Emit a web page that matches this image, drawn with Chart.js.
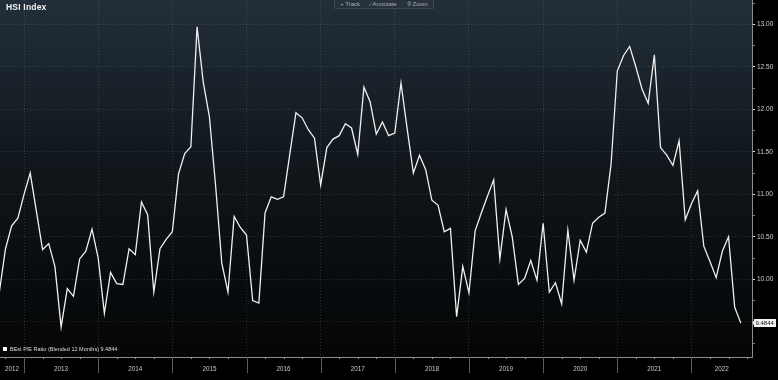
<!DOCTYPE html>
<html><head><meta charset="utf-8">
<script src="https://cdn.jsdelivr.net/npm/chart.js@4.4.0/dist/chart.umd.min.js"></script>
<style>
html,body{margin:0;padding:0;background:#000;}
#wrap{position:relative;width:778px;height:380px;overflow:hidden;}
canvas{display:block;}
.title{position:absolute;left:6px;top:2px;font:bold 8.5px "Liberation Sans",Arial,sans-serif;color:#f2f2f2;letter-spacing:0.2px;}
.tools{position:absolute;left:334px;top:-1px;width:98px;height:9px;background:#26313c;border:1px solid #3c4752;border-top:none;border-radius:0 0 2px 2px;font:6px "Liberation Sans",Arial,sans-serif;color:#a9b0b6;display:flex;align-items:center;justify-content:space-around;white-space:nowrap;}
.legend{position:absolute;left:3px;top:346px;font:5.5px "Liberation Sans",Arial,sans-serif;color:#dcdcdc;display:flex;align-items:center;white-space:nowrap;}
.legend i{display:inline-block;width:4px;height:4px;background:#fff;margin-right:3px;}
</style>
</head><body>
<div id="wrap">
<canvas id="c" width="778" height="380"></canvas>
<div class="title">HSI Index</div>
<div class="tools"><span>+ Track</span><span>&#8260; Annotate</span><span>&#9906; Zoom</span></div>
<div class="legend"><i></i><span>BEst P/E Ratio (Blended 12 Months) 9.4844</span></div>
</div>
<script>
// ---- data (month-end values, Aug 2012 .. Aug 2022) ----
const firstMonth = {year: 2012, month: 8};
const pe2012 = [9.85, 10.36, 10.63, 10.72, 11.00];
const pe2013 = [11.25, 10.80, 10.35, 10.42, 10.15, 9.44, 9.89, 9.80, 10.24, 10.33, 10.59, 10.25];
const pe2014 = [9.60, 10.08, 9.95, 9.94, 10.36, 10.29, 10.91, 10.76, 9.85, 10.36, 10.47, 10.56];
const pe2015 = [11.24, 11.48, 11.56, 12.97, 12.32, 11.91, 11.10, 10.19, 9.85, 10.74, 10.61, 10.52];
const pe2016 = [9.75, 9.72, 10.78, 10.97, 10.94, 10.97, 11.47, 11.96, 11.90, 11.76, 11.66, 11.11];
const pe2017 = [11.55, 11.65, 11.69, 11.83, 11.78, 11.47, 12.26, 12.09, 11.71, 11.85, 11.69, 11.72];
const pe2018 = [12.31, 11.77, 11.25, 11.46, 11.29, 10.93, 10.87, 10.56, 10.60, 9.56, 10.15, 9.84];
const pe2019 = [10.57, 10.78, 10.98, 11.17, 10.24, 10.82, 10.50, 9.94, 10.01, 10.22, 9.99, 10.66];
const pe2020 = [9.85, 9.96, 9.71, 10.58, 9.99, 10.46, 10.32, 10.66, 10.73, 10.78, 11.36, 12.45];
const pe2021 = [12.63, 12.74, 12.50, 12.24, 12.07, 12.64, 11.55, 11.46, 11.34, 11.63, 10.70, 10.89];
const pe2022 = [11.04, 10.39, 10.21, 10.02, 10.33, 10.50, 9.67, 9.4844];
const yearLabels = ['2012','2013','2014','2015','2016','2017','2018','2019','2020','2021','2022'];
const yMajorTicks = [9.5, 10.0, 10.5, 11.0, 11.5, 12.0, 12.5, 13.0];
const seriesName = 'BEst P/E Ratio (Blended 12 Months)';
const lastLabel = '9.4844';

// ---- build ----
const peRatio = [].concat(pe2012, pe2013, pe2014, pe2015, pe2016, pe2017, pe2018, pe2019, pe2020, pe2021, pe2022);
const points = peRatio.map((v, i) => ({x: i, y: v}));
const xMin = 0.11, xMax = 121.8;
const yMin = 9.086, yMax = 13.286;
const firstYear = parseInt(yearLabels[0], 10);
const boundaryIdx = yr => (12 - firstMonth.month) + 12 * (yr - firstYear - 1);
const boundaries = yearLabels.slice(1).map(y => boundaryIdx(parseInt(y, 10)));
const midpoints = yearLabels.map((y, i) => {
  const a = i === 0 ? xMin : boundaries[i - 1];
  const b = i === yearLabels.length - 1 ? xMax : boundaries[i];
  return (a + b) / 2;
});
const midLabel = new Map(midpoints.map((m, i) => [m, yearLabels[i]]));
const boundarySet = new Set(boundaries);
const quarterTicks = [];
for (let k = boundaries[0] - 12; k <= xMax; k += 3) if (k >= xMin && !boundarySet.has(k)) quarterTicks.push(k);
const yAll = [];
for (let v = 9.25; v <= 13.25 + 1e-9; v += 0.25) yAll.push(Math.round(v * 100) / 100);
const isMajor = v => yMajorTicks.some(t => Math.abs(t - v) < 1e-6);
const noPad = s => { s.paddingTop = 0; s.paddingBottom = 0; s.paddingLeft = 0; s.paddingRight = 0; };

const deco = {
  id: 'deco',
  beforeDraw(chart) {
    const {ctx, chartArea: a, width, height} = chart;
    ctx.save();
    ctx.fillStyle = '#000';
    ctx.fillRect(0, 0, width, height);
    const g = ctx.createLinearGradient(0, a.top, 0, a.bottom);
    g.addColorStop(0, '#222e39');
    g.addColorStop(0.5, '#0f1519');
    g.addColorStop(1, '#040506');
    ctx.fillStyle = g;
    ctx.fillRect(a.left, a.top, a.right - a.left, a.bottom - a.top);
    ctx.restore();
  },
  afterDraw(chart) {
    const {ctx, chartArea: a, scales: {x, y}} = chart;
    ctx.save();
    ctx.lineWidth = 1;
    ctx.strokeStyle = '#5c5c5c';
    boundaries.forEach(k => {
      const px = Math.round(x.getPixelForValue(k)) + 0.5;
      ctx.beginPath(); ctx.moveTo(px, a.bottom); ctx.lineTo(px, a.bottom + 16); ctx.stroke();
    });
    ctx.strokeStyle = '#9a9a9a';
    quarterTicks.forEach(k => {
      const px = Math.round(x.getPixelForValue(k)) + 0.5;
      ctx.beginPath(); ctx.moveTo(px, a.bottom); ctx.lineTo(px, a.bottom + 2); ctx.stroke();
    });
    const lv = peRatio[peRatio.length - 1];
    const py = y.getPixelForValue(lv);
    ctx.fillStyle = '#f4f4f4';
    ctx.fillRect(a.right + 2, Math.round(py) - 4, 22, 8);
    ctx.beginPath(); ctx.moveTo(a.right + 0.5, py); ctx.lineTo(a.right + 2.5, py - 2.5); ctx.lineTo(a.right + 2.5, py + 2.5); ctx.fill();
    ctx.fillStyle = '#111';
    ctx.font = '6px "Liberation Sans", Arial, sans-serif';
    ctx.textBaseline = 'middle';
    ctx.textAlign = 'left';
    ctx.fillText(lastLabel, a.right + 3.5, Math.round(py) + 0.5);
    ctx.restore();
  }
};

new Chart(document.getElementById('c'), {
  type: 'line',
  data: {
    datasets: [{
      label: seriesName,
      data: points,
      borderColor: '#f0f0f0',
      borderWidth: 1.3,
      pointRadius: 0,
      tension: 0,
      fill: false
    }]
  },
  options: {
    responsive: false,
    animation: false,
    layout: {padding: 0},
    plugins: {legend: {display: false}, tooltip: {enabled: false}},
    scales: {
      x: {
        type: 'linear',
        min: xMin, max: xMax,
        afterBuildTicks: s => {
          s.ticks = [...boundaries, ...midpoints].sort((p, q) => p - q).map(v => ({value: v}));
        },
        afterFit: s => { s.height = 23; noPad(s); },
        ticks: {
          autoSkip: false, maxRotation: 0, padding: 8,
          color: '#c8c8c8',
          font: {family: '"Liberation Sans", Arial, sans-serif', size: 6.3},
          callback: v => midLabel.has(v) ? midLabel.get(v) : ''
        },
        grid: {
          drawTicks: false,
          color: c => (c.tick && boundarySet.has(c.tick.value)) ? 'rgba(255,255,255,0.14)' : 'rgba(0,0,0,0)',
          lineWidth: 1
        },
        border: {display: true, color: '#8c8c8c', width: 1, dash: [1, 2]}
      },
      y: {
        position: 'right',
        min: yMin, max: yMax,
        afterBuildTicks: s => { s.ticks = yAll.map(v => ({value: v})); },
        afterFit: s => { s.width = 26; noPad(s); },
        ticks: {
          autoSkip: false, padding: 2,
          color: '#cfcfcf',
          font: {family: '"Liberation Sans", Arial, sans-serif', size: 6.5},
          callback: v => isMajor(v) ? v.toFixed(2) : ''
        },
        grid: {
          drawTicks: true, tickLength: 3,
          color: c => (c.tick && isMajor(c.tick.value)) ? 'rgba(255,255,255,0.13)' : 'rgba(0,0,0,0)',
          tickColor: c => (c.tick && isMajor(c.tick.value)) ? '#e0e0e0' : '#777',
          lineWidth: 1
        },
        border: {display: true, color: '#8c8c8c', width: 1, dash: [1, 2]}
      }
    }
  },
  plugins: [deco]
});
</script>
</body></html>
